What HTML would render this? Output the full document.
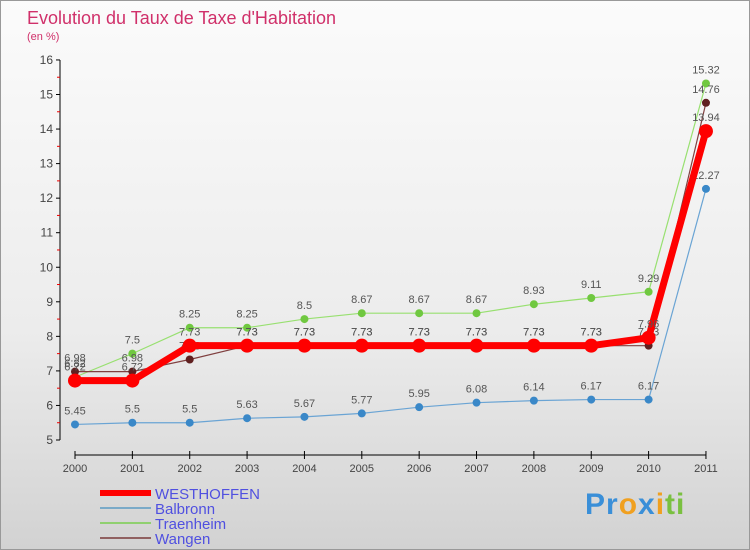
<!DOCTYPE html>
<html><head><meta charset="utf-8"><style>
body{margin:0}
#c{width:750px;height:550px;position:relative;background:linear-gradient(#fbfbfb,#ececec 60%,#d2d2d2);overflow:hidden;font-family:"Liberation Sans",sans-serif}
</style></head><body>
<div id="c">
<svg id="s" width="750" height="550" style="position:absolute;left:0;top:0">
<rect x="0.5" y="0.5" width="749" height="549" fill="none" stroke="#999"/>
<text x="27" y="24" font-size="18" fill="#d0306a">Evolution du Taux de Taxe d'Habitation</text>
<text x="27" y="40" font-size="11" fill="#d0306a">(en %)</text>
<g id="g"></g>
</svg>
<div style="position:absolute;left:585px;top:488px;font-size:30px;font-weight:bold;letter-spacing:1px"><span style="color:#3a8fd8">Pr</span><span style="color:#f0a020">o</span><span style="color:#3a8fd8">x</span><span style="color:#f0a020">i</span><span style="color:#7ac040">ti</span></div>
</div>
<script>
const years=["2000","2001","2002","2003","2004","2005","2006","2007","2008","2009","2010","2011"];
const yTicks=[5,6,7,8,9,10,11,12,13,14,15,16];
const westhoffen=[6.72,6.72,7.73,7.73,7.73,7.73,7.73,7.73,7.73,7.73,7.96,13.94];
const balbronn=[5.45,5.5,5.5,5.63,5.67,5.77,5.95,6.08,6.14,6.17,6.17,12.27];
const traenheim=[6.82,7.5,8.25,8.25,8.5,8.67,8.67,8.67,8.93,9.11,9.29,15.32];
const wangen=[6.98,6.98,7.33,7.73,7.73,7.73,7.73,7.73,7.73,7.73,7.73,14.76];
const NS="http://www.w3.org/2000/svg",g=document.getElementById('g');
const X=i=>75+i*57.36, Y=v=>440-(v-5)*34.55;
function el(t,a,p){const e=document.createElementNS(NS,t);for(const k in a)e.setAttribute(k,a[k]);(p||g).appendChild(e);return e;}
let ax=el('line',{x1:60,y1:Y(5),x2:60,y2:Y(16),stroke:'#000'});

let bx=el('line',{x1:75,y1:455,x2:X(11),y2:455,stroke:'#000'});

yTicks.forEach((v,i)=>{el('line',{x1:56,x2:60,y1:Y(v),y2:Y(v),stroke:'#000'});
 if(i<yTicks.length-1)el('line',{x1:57,x2:60,y1:Y(v+0.5),y2:Y(v+0.5),stroke:'#e00'});
 const t=el('text',{x:53,y:Y(v)+4,'font-size':12,'text-anchor':'end',fill:'#444'});t.textContent=v;
 });
years.forEach((y,i)=>{el('line',{x1:X(i),x2:X(i),y1:451,y2:459,stroke:'#000'});
 const t=el('text',{x:X(i),y:472,'font-size':11,'text-anchor':'middle',fill:'#444'});t.textContent=y;
 });
const series=[[balbronn,'#6aa4d4','#3a88c8',1.2,4,'balbronn'],[traenheim,'#98e070','#70c840',1.2,4,'traenheim'],[wangen,'#804040','#602020',1.2,4,'wangen'],[westhoffen,'#f00','#f00',7,7,'westhoffen']];
series.forEach(([d,c,mc,w,r,n])=>{
 const p=el('polyline',{points:d.map((v,i)=>X(i)+','+Y(v)).join(' '),fill:'none',stroke:c,'stroke-width':w,'stroke-linejoin':'round'});
 
 d.forEach((v,i)=>{const m=el('circle',{cx:X(i),cy:Y(v),r:r,fill:mc});
  
  const t=el('text',{x:X(i),y:Y(v)-10,'font-size':11,'text-anchor':'middle',fill:'#555'});t.textContent=v;
  });
});
const leg=[['WESTHOFFEN','#f00',6],['Balbronn','#7aaac8',2],['Traenheim','#90d070',2],['Wangen','#906060',2]];
leg.forEach(([n,c,w],i)=>{const y=493+i*15;
 const l=el('line',{x1:100,x2:151,y1:y,y2:y,stroke:c,'stroke-width':w});
 
 const t=el('text',{x:155,y:y+6,'font-size':15,fill:'#5050e0'});t.textContent=n;
 });
</script>
</body></html>
